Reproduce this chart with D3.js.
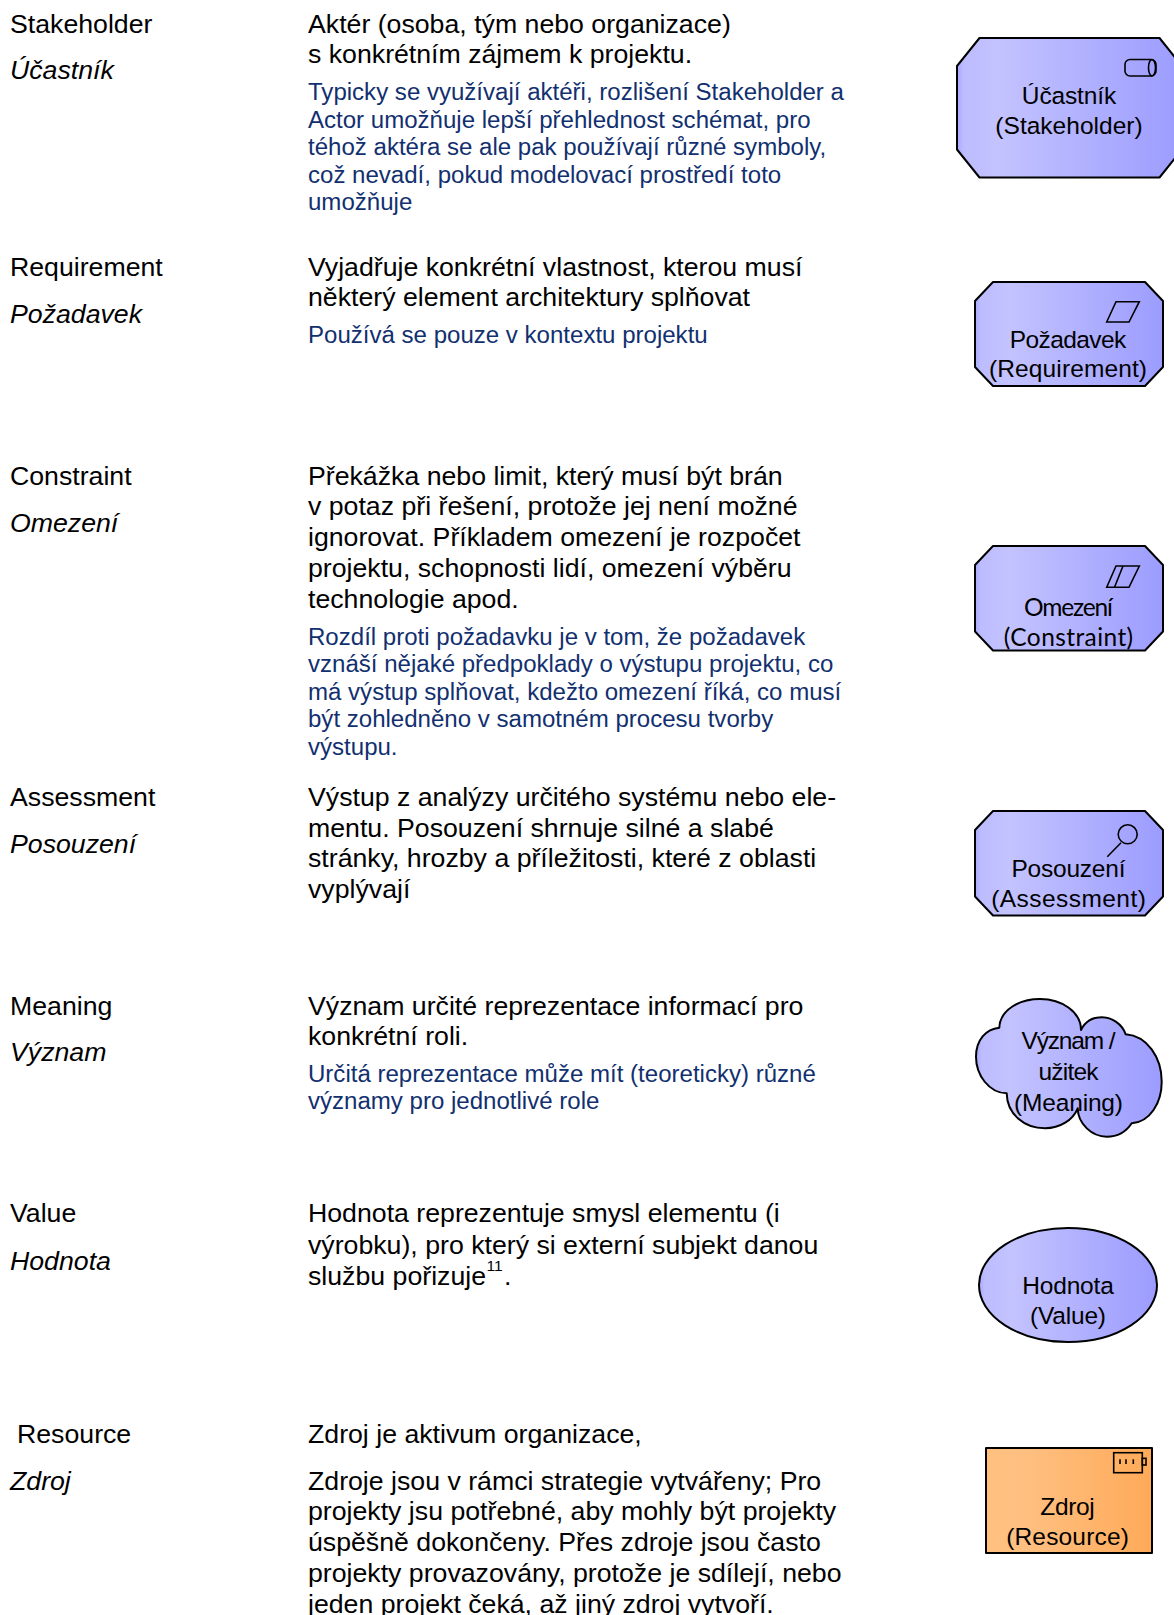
<!DOCTYPE html>
<html>
<head>
<meta charset="utf-8">
<script src="https://cdn.jsdelivr.net/npm/d3@7"></script>
<style>
  html, body { margin: 0; padding: 0; background: #fff; overflow: hidden; }
  text { font-family: "Liberation Sans", Arial, sans-serif; }
</style>
</head>
<body>
<script>
// table content
const termsEn = ["Stakeholder", "Requirement", "Constraint", "Assessment", "Meaning", "Value", "Resource"];
const termsCz = ["Účastník", "Požadavek", "Omezení", "Posouzení", "Význam", "Hodnota", "Zdroj"];

const bodyText = [
    ["Aktér (osoba, tým nebo organizace)", "s konkrétním zájmem k projektu."],
    ["Vyjadřuje konkrétní vlastnost, kterou musí", "některý element architektury splňovat"],
    ["Překážka nebo limit, který musí být brán", "v potaz při řešení, protože jej není možné", "ignorovat. Příkladem omezení je rozpočet", "projektu, schopnosti lidí, omezení výběru", "technologie apod."],
    ["Výstup z analýzy určitého systému nebo ele-", "mentu. Posouzení shrnuje silné a slabé", "stránky, hrozby a příležitosti, které z oblasti", "vyplývají"],
    ["Význam určité reprezentace informací pro", "konkrétní roli."],
    ["Hodnota reprezentuje smysl elementu (i", "výrobku), pro který si externí subjekt danou", "službu pořizuje"],
    ["Zdroj je aktivum organizace,"]
];

const noteText = [
    ["Typicky se využívají aktéři, rozlišení Stakeholder a", "Actor umožňuje lepší přehlednost schémat, pro", "téhož aktéra se ale pak používají různé symboly,", "což nevadí, pokud modelovací prostředí toto", "umožňuje"],
    ["Používá se pouze v kontextu projektu"],
    ["Rozdíl proti požadavku je v tom, že požadavek", "vznáší nějaké předpoklady o výstupu projektu, co", "má výstup splňovat, kdežto omezení říká, co musí", "být zohledněno v samotném procesu tvorby", "výstupu."],
    [],
    ["Určitá reprezentace může mít (teoreticky) různé", "významy pro jednotlivé role"],
    [],
    []
];

const resourceExtra = ["Zdroje jsou v rámci strategie vytvářeny; Pro", "projekty jsu potřebné, aby mohly být projekty", "úspěšně dokončeny. Přes zdroje jsou často", "projekty provazovány, protože je sdílejí, nebo", "jeden projekt čeká, až jiný zdroj vytvoří."];

const shapeLabels = [
    ["Účastník", "(Stakeholder)"],
    ["Požadavek", "(Requirement)"],
    ["Omezení", "(Constraint)"],
    ["Posouzení", "(Assessment)"],
    ["Význam /", "užitek", "(Meaning)"],
    ["Hodnota", "(Value)"],
    ["Zdroj", "(Resource)"]
];

// layout, measured from the page
const width = 1174;
const height = 1615;
const rowBase = [33, 275.5, 484.5, 806, 1015, 1222, 1443];
const italicBase = [79, 322.5, 531.5, 852.5, 1061, 1269.5, 1489.5];
const rowLh = [30, 30.6, 30.9, 30.5, 30, 31.5, 30.8];
const noteBase = [100, 343, 644.5, null, 1081.5, null, null];
const extraBase = 1489.5;
const extraLh = 30.8;
const noteLh = 27.5;
const xLeft = 10;
const xMid = 308;
const bodySize = 26.7;
const noteSize = 24.05;
const labelSize = 24.5;

const labelBase = [[104, 134], [348, 377.3], [616, 646], [876.7, 906.7], [1049.3, 1080, 1110.7], [1294, 1324], [1514.8, 1544.5]];
const labelWidth = [[94.3, 147.3], [116.7, 158], [89, 129.3], [114, 154.7], [94, 60, 109], [91.7, 76], [54.3, 122.7]];
const labelX = [1069, 1068, 1068.5, 1068.5, 1068.5, 1068, 1067.5];

const svg = d3.select("body").append("svg")
    .attr("width", width)
    .attr("height", height)
    .style("display", "block");

// gradients
const defs = svg.append("defs");
function gradient(id, stops) {
    const g = defs.append("linearGradient").attr("id", id)
        .attr("x1", "0%").attr("x2", "100%").attr("y1", "0%").attr("y2", "0%");
    stops.forEach(function(s) {
        g.append("stop").attr("offset", s[0]).attr("stop-color", s[1]);
    });
}
gradient("blue", [[0, "#a9a9ff"], [0.03, "#bcbcff"], [0.18, "#c3c3ff"], [1, "#9c9cff"]]);
gradient("orange", [[0, "#ffc080"], [0.25, "#ffbf80"], [1, "#ffaa58"]]);

// left and middle columns
const text = svg.append("g").attr("fill", "#000");

function lines(list, x, y0, lh, size, color) {
    text.append("g").selectAll("text")
        .data(list)
        .join("text")
        .attr("x", x)
        .attr("y", function(d, i) { return y0 + i * lh; })
        .attr("font-size", size)
        .attr("fill", color)
        .text(function(d) { return d; });
}

termsEn.forEach(function(t, i) {
    lines([t], i == 6 ? xLeft + 7 : xLeft, rowBase[i], 0, bodySize, "#000");
    text.append("text")
        .attr("x", xLeft)
        .attr("y", italicBase[i])
        .attr("font-size", bodySize)
        .attr("font-style", "italic")
        .text(termsCz[i]);
    lines(bodyText[i], xMid, rowBase[i], rowLh[i], bodySize, "#000");
    if (noteText[i].length) {
        lines(noteText[i], xMid, noteBase[i], noteLh, noteSize, "#12306f");
    }
});
lines(resourceExtra, xMid, extraBase, extraLh, bodySize, "#000");

// footnote mark after "pořizuje"
const noteY = rowBase[5] + 2 * rowLh[5];
text.append("text").attr("x", 486.5).attr("y", noteY - 14).attr("font-size", 15.5).text("11");
text.append("text").attr("x", 504).attr("y", noteY).attr("font-size", bodySize).text(".");

// shapes
const shapes = svg.append("g")
    .attr("stroke", "#000")
    .attr("stroke-width", 2)
    .attr("stroke-linejoin", "round");

function chamfer(x0, y0, x1, y1, dx, dy) {
    const p = d3.path();
    p.moveTo(x0 + dx, y0);
    p.lineTo(x1 - dx, y0);
    p.lineTo(x1, y0 + dy);
    p.lineTo(x1, y1 - dy);
    p.lineTo(x1 - dx, y1);
    p.lineTo(x0 + dx, y1);
    p.lineTo(x0, y1 - dy);
    p.lineTo(x0, y0 + dy);
    p.closePath();
    return p.toString();
}

function body(d, fill) {
    return shapes.append("path").attr("d", d).attr("fill", "url(#" + fill + ")");
}

body(chamfer(957, 38, 1182, 177.5, 22.5, 28), "blue");
body(chamfer(975, 282, 1163, 386, 18, 19), "blue");
body(chamfer(975, 546, 1163, 650.5, 18, 19), "blue");
body(chamfer(975, 811, 1163, 915.5, 18, 19), "blue");

// cloud, one bezier per half lobe
const cloud = d3.path();
cloud.moveTo(999.3, 1027.7);
cloud.bezierCurveTo(1000, 1010, 1019, 999, 1040, 999);
cloud.bezierCurveTo(1062, 999, 1081, 1012, 1081, 1030);
cloud.bezierCurveTo(1085, 1022, 1092, 1017.3, 1101.7, 1017.3);
cloud.bezierCurveTo(1112, 1017.3, 1122, 1024, 1125.7, 1034.3);
cloud.bezierCurveTo(1147, 1036, 1161.7, 1057, 1161.7, 1081.7);
cloud.bezierCurveTo(1161.7, 1103, 1150, 1122, 1131.7, 1123.3);
cloud.bezierCurveTo(1126, 1132, 1117, 1136.7, 1106.7, 1136.7);
cloud.bezierCurveTo(1092, 1136.7, 1078, 1124, 1077.7, 1108.3);
cloud.bezierCurveTo(1073, 1120, 1060, 1128.3, 1045, 1128.3);
cloud.bezierCurveTo(1024, 1128.3, 1007, 1114, 1006.7, 1093.3);
cloud.bezierCurveTo(989, 1093, 976, 1075, 976, 1056.7);
cloud.bezierCurveTo(976, 1040, 986, 1029, 999.3, 1027.7);
cloud.closePath();
body(cloud.toString(), "blue");

shapes.append("ellipse")
    .attr("cx", 1068).attr("cy", 1285)
    .attr("rx", 89).attr("ry", 57)
    .attr("fill", "url(#blue)");

shapes.append("rect")
    .attr("x", 986).attr("y", 1448)
    .attr("width", 166).attr("height", 105)
    .attr("fill", "url(#orange)");

// small icons
const icons = svg.append("g")
    .attr("fill", "none")
    .attr("stroke", "#000")
    .attr("stroke-width", 1.6);

icons.append("rect").attr("x", 1125).attr("y", 59.5).attr("width", 31).attr("height", 16.5).attr("rx", 5);
icons.append("ellipse").attr("cx", 1152).attr("cy", 67.7).attr("rx", 3.5).attr("ry", 8.2);

const para = d3.line();
icons.append("path").attr("d", para([[1106.7, 322], [1116, 301.7], [1139.3, 301.7], [1129, 322]]) + "Z");
icons.append("path").attr("d", para([[1106.7, 587.3], [1116, 566], [1139.3, 566], [1129, 587.3]]) + "Z");
icons.append("path").attr("d", para([[1114.5, 587.3], [1123, 566]]));

icons.append("circle").attr("cx", 1127.7).attr("cy", 834.3).attr("r", 9.5);
icons.append("path").attr("d", para([[1121, 842.7], [1107.3, 856.7]]));

icons.append("rect").attr("x", 1113.7).attr("y", 1452.7).attr("width", 28.6).attr("height", 20);
icons.append("rect").attr("x", 1142.3).attr("y", 1458.3).attr("width", 3.7).attr("height", 6.7);
icons.selectAll("line.tick")
    .data([1120, 1126, 1133.3])
    .join("line")
    .attr("class", "tick")
    .attr("x1", function(d) { return d; })
    .attr("x2", function(d) { return d; })
    .attr("y1", 1459.3)
    .attr("y2", 1464);

// shape captions, the originals are squeezed to fixed widths
shapeLabels.forEach(function(list, i) {
    svg.append("g").selectAll("text")
        .data(list)
        .join("text")
        .attr("x", labelX[i])
        .attr("y", function(d, j) { return labelBase[i][j]; })
        .attr("font-size", labelSize)
        .attr("text-anchor", "middle")
        .attr("textLength", function(d, j) { return labelWidth[i][j]; })
        .attr("lengthAdjust", "spacing")
        .style("font-family", i == 2 ? "Lato, sans-serif" : null)
        .text(function(d) { return d; });
});
</script>
</body>
</html>
